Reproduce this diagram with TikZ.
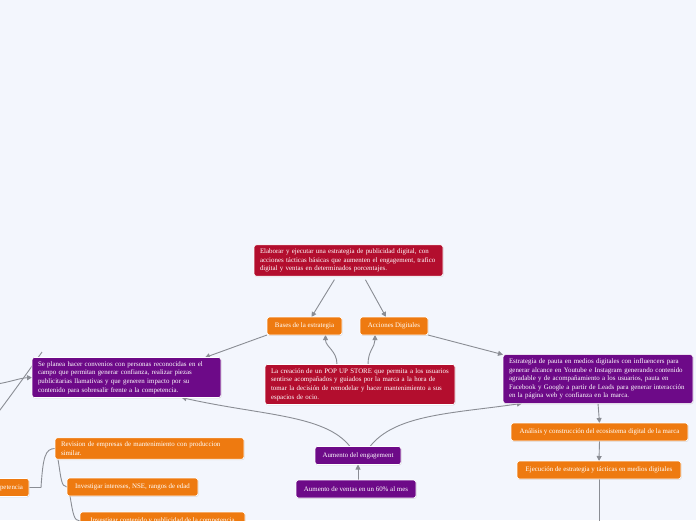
\documentclass[tikz,border=0pt]{standalone}
\usepackage{fontspec}
\setmainfont{Liberation Serif}
\usepackage{xcolor}
\definecolor{mmRed}{HTML}{B30E2E}
\definecolor{mmOrange}{HTML}{EE7A10}
\definecolor{mmPurple}{HTML}{6D0A88}
\definecolor{mmLine}{HTML}{8A8D94}
\definecolor{mmBack}{HTML}{F3F6FD}
\usetikzlibrary{shadows, arrows.meta, calc}
\pgfdeclarelayer{backdrop}
\pgfdeclarelayer{links}
\pgfsetlayers{backdrop,links,main}

\begin{document}
\begin{tikzpicture}[
    x=1pt, y=-1pt,
    every node/.style={outer sep=0pt},
    topic/.style={rounded corners=2.5pt, draw=white, line width=0.7pt, text=white, font=\fontsize{6.9}{8.6}\selectfont, inner xsep=6pt, inner ysep=4pt, drop shadow={opacity=0.22, shadow xshift=0.6pt, shadow yshift=-0.9pt}},
    redTopic/.style={topic, fill=mmRed},
    orangeTopic/.style={topic, fill=mmOrange},
    purpleTopic/.style={topic, fill=mmPurple},
    wide/.style={text width=#1, align=left},
    single/.style={minimum width=#1, minimum height=18pt, align=center},
    % Connector styles
    link/.style={draw=mmLine, line width=0.9pt},
    arrowLink/.style={link, -{Triangle[length=5pt,width=5pt]}}
]
    \useasboundingbox (0,0) rectangle (696,520);
    \begin{pgfonlayer}{backdrop}
        \fill [mmBack] (0,0) rectangle (696,520);
    \end{pgfonlayer}

    % Central topic and its two branches
    \node (goal) [redTopic, wide=177pt] at (348.5,260.5) {Elaborar y ejecutar una estrategia de publicidad digital, con\\acciones tácticas básicas que aumenten el engagement, trafico\\digital y ventas en determinados porcentajes.};
    \node (bases) [orangeTopic, single=75pt] at (304.5,326) {Bases de la estrategia};
    \node (acciones) [orangeTopic, single=68pt] at (394,326) {Acciones Digitales};
    \node (popup) [redTopic, wide=178pt] at (360,384.5) {La creación de un POP UP STORE que permita a los usuarios\\sentirse acompañados y guiados por la marca a la hora de\\tomar la decisión de remodelar y hacer mantenimiento a sus\\espacios de ocio.};

    % Left and right strategies
    \node (convenios) [purpleTopic, wide=177pt] at (126.5,377.5) {Se planea hacer convenios con personas reconocidas en el\\campo que permitan generar confianza, realizar piezas\\publicitarias llamativas y que generen impacto por su\\contenido para sobresalir frente a la competencia.};
    \node (pauta) [purpleTopic, wide=178pt] at (598,379) {Estrategia de pauta en medios digitales con influencers para\\generar alcance en Youtube e Instagram generando contenido\\agradable y de acompañamiento a los usuarios, pauta en\\Facebook y Google a partir de Leads para generar interacción\\en la página web y confianza en la marca.};
    \node (analisis) [orangeTopic, single=177pt] at (599.5,432) {Análisis y construcción del ecosistema digital de la marca};
    \node (ejecucion) [orangeTopic, single=164pt] at (599,470) {Ejecución de estrategia y tácticas en medios digitales};

    % Goals
    \node (engagement) [purpleTopic, single=86pt] at (358,455.5) {Aumento del engagement};
    \node (ventas) [purpleTopic, single=120pt] at (356,489) {Aumento de ventas en un 60\% al mes};

    % Competitor research
    \node (competencia) [orangeTopic, minimum height=18pt, anchor=east] at (29,487.5) {Análisis de la competencia};
    \node (revision) [orangeTopic, wide=177pt] at (149.5,448.5) {Revision de empresas de mantenimiento con produccion\\similar.};
    \node (intereses) [orangeTopic, single=131pt] at (132.5,487) {Investigar intereses, NSE, rangos de edad};
    \node (contenido) [orangeTopic, single=165pt, anchor=north west] at (80,512) {Investigar contenido y publicidad de la competencia};

    \coordinate (leftIn) at (-3,384);
    \coordinate (leftUpStart) at (-3,414);
    \coordinate (leftUpEnd) at (42,352);
    \coordinate (ejecucionEnd) at (599,530);

    % Connect lines
    \begin{pgfonlayer}{links}
        \draw [arrowLink, shorten <=4pt] ([xshift=-12pt]goal.south) -- ([xshift=7pt]bases.north);
        \draw [arrowLink, shorten <=4pt] ([xshift=15pt]goal.south) -- ([xshift=-8pt]acciones.north);
        \draw [arrowLink] (bases.south west) -- ([xshift=-16pt]convenios.north east);
        \draw [arrowLink] (acciones.south east) -- (pauta.north west);
        \draw [arrowLink] ([xshift=-23pt]popup.north) .. controls +(0,-14) and +(0,12) .. ([xshift=21pt]bases.south);
        \draw [arrowLink] ([xshift=8pt]popup.north) .. controls +(0,-14) and +(0,12) .. ([xshift=-19pt]acciones.south);
        \draw [arrowLink] ([xshift=-8pt]engagement.north) .. controls +(-25,-32) and +(80,18) .. ([xshift=55pt]convenios.south);
        \draw [arrowLink] ([xshift=12pt]engagement.north) .. controls +(25,-32) and +(-70,10) .. ([xshift=-76pt]pauta.south);
        \draw [arrowLink] (engagement.south |- ventas.north) -- (engagement.south);
        \draw [arrowLink] (pauta.south) -- (analisis.north);
        \draw [arrowLink] (analisis.south) -- (ejecucion.north);
        \draw [link] (ejecucion.south) -- (ejecucionEnd);
        \draw [arrowLink] (leftIn) .. controls (10,382) and (20,378) .. (convenios.west);
        \draw [link] (leftUpStart) .. controls (15,390) and (35,362) .. (leftUpEnd);
        \draw [link] (competencia.east) -- ++(12,0) .. controls +(2,-30) and +(-10,0) .. (revision.west);
        \draw [link] ([xshift=3pt]revision.south west) .. controls +(3,18) and +(-6,0) .. (intereses.west);
        \draw [link] ([xshift=3pt]intereses.south west) .. controls +(3,18) and +(-6,0) .. (contenido.west);
    \end{pgfonlayer}
\end{tikzpicture}
\end{document}
